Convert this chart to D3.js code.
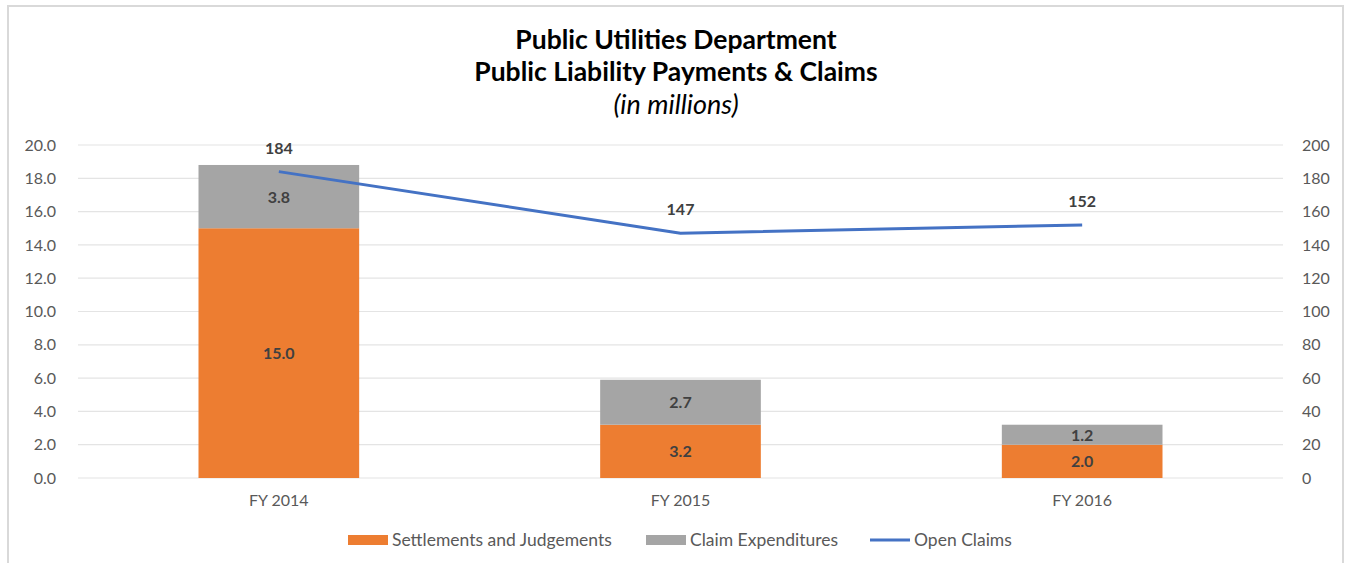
<!DOCTYPE html>
<html>
<head>
<meta charset="utf-8">
<script src="https://cdn.jsdelivr.net/npm/d3@7"></script>
<style>
  html, body { margin: 0; padding: 0; background: #fff; }
  svg { display: block; }
  text { font-family: Lato, "Open Sans", sans-serif; }
</style>
</head>
<body>
<svg id="chart" width="1345" height="563"></svg>
<script>
// Fiscal years and their payments (millions) and open claim counts
const years = ["FY 2014", "FY 2015", "FY 2016"];
const settlements = [15.0, 3.2, 2.0];
const claimExpenditures = [3.8, 2.7, 1.2];
const openClaims = [184, 147, 152];
const leftTicks = [0, 2, 4, 6, 8, 10, 12, 14, 16, 18, 20];
const rightTicks = [0, 20, 40, 60, 80, 100, 120, 140, 160, 180, 200];
const seriesNames = ["Settlements and Judgements", "Claim Expenditures", "Open Claims"];

const colors = { settle: "#ED7D31", claim: "#A5A5A5", line: "#4472C4" };
const FONT = "Lato, 'Open Sans', sans-serif";

const svg = d3.select("#chart");
const W = 1345, H = 563;
const plot = { left: 78, right: 1283, top: 145, bottom: 478 };

// Chart frame
svg.append("rect")
  .attr("x", 8).attr("y", 6).attr("width", W - 10).attr("height", H + 10)
  .attr("fill", "#fff").attr("stroke", "#d9d9d9").attr("stroke-width", 2);

// Title
const title = svg.append("g").attr("text-anchor", "middle");
title.append("text").attr("x", 676).attr("y", 49)
  .attr("font-size", 26.5).attr("font-weight", 700).attr("fill", "#000")
  .text("Public Utilities Department");
title.append("text").attr("x", 676).attr("y", 81)
  .attr("font-size", 26.5).attr("font-weight", 700).attr("fill", "#000")
  .text("Public Liability Payments & Claims");
title.append("text").attr("x", 676).attr("y", 114)
  .attr("font-size", 27).attr("font-style", "italic").attr("fill", "#000")
  .text("(in millions)");

const x = d3.scaleBand().domain(years)
  .range([plot.left, plot.right]).paddingInner(0.6).paddingOuter(0.3);
const yL = d3.scaleLinear().domain([0, 20]).range([plot.bottom, plot.top]);
const yR = d3.scaleLinear().domain([0, 200]).range([plot.bottom, plot.top]);

// Gridlines
svg.append("g").selectAll("line").data(leftTicks).join("line")
  .attr("x1", plot.left).attr("x2", plot.right)
  .attr("y1", d => yL(d)).attr("y2", d => yL(d))
  .attr("stroke", "#e4e4e4").attr("stroke-width", 1.2);

// Left axis
const leftAxis = svg.append("g").attr("transform", `translate(${plot.left - 22},0)`)
  .call(d3.axisLeft(yL).tickValues(leftTicks).tickFormat(d3.format(".1f")).tickSize(0).tickPadding(0));
leftAxis.select(".domain").remove();
leftAxis.selectAll("text").attr("font-size", 16).attr("fill", "#595959").attr("font-family", FONT);

// Right axis
const rightAxis = svg.append("g").attr("transform", `translate(${plot.right + 19},0)`)
  .call(d3.axisRight(yR).tickValues(rightTicks).tickSize(0).tickPadding(0));
rightAxis.select(".domain").remove();
rightAxis.selectAll("text").attr("font-size", 16).attr("fill", "#595959").attr("font-family", FONT);

// Category axis labels
const bottomAxis = svg.append("g").attr("transform", `translate(0,${plot.bottom + 13})`)
  .call(d3.axisBottom(x).tickSize(0).tickPadding(4));
bottomAxis.select(".domain").remove();
bottomAxis.selectAll("text").attr("font-size", 16).attr("fill", "#595959").attr("font-family", FONT);

// Stacked bars
const rows = years.map((y, i) => ({ year: y, settle: settlements[i], claim: claimExpenditures[i] }));
const stack = d3.stack().keys(["settle", "claim"])(rows);
const bars = svg.append("g");
stack.forEach(layer => {
  bars.append("g").selectAll("rect").data(layer).join("rect")
    .attr("x", d => x(d.data.year))
    .attr("width", x.bandwidth())
    .attr("y", d => yL(d[1]))
    .attr("height", d => yL(d[0]) - yL(d[1]))
    .attr("fill", colors[layer.key]);
  bars.append("g").selectAll("text").data(layer).join("text")
    .attr("x", d => x(d.data.year) + x.bandwidth() / 2)
    .attr("y", d => (yL(d[0]) + yL(d[1])) / 2 + 6)
    .attr("text-anchor", "middle")
    .attr("font-size", 16).attr("font-weight", 700).attr("fill", "#404040")
    .text(d => d3.format(".1f")(d.data[layer.key]));
});

// Open claims line
const cx = d => x(d) + x.bandwidth() / 2;
const line = d3.line().x((d, i) => cx(years[i])).y(d => yR(d));
svg.append("path").datum(openClaims)
  .attr("d", line).attr("fill", "none")
  .attr("stroke", colors.line).attr("stroke-width", 3).attr("stroke-linejoin", "round");
svg.append("g").selectAll("text").data(openClaims).join("text")
  .attr("x", (d, i) => cx(years[i]))
  .attr("y", d => yR(d) - 18)
  .attr("text-anchor", "middle")
  .attr("font-size", 16).attr("font-weight", 700).attr("fill", "#404040")
  .text(d => d);

// Legend
const legend = svg.append("g").attr("transform", "translate(0,540)");
const legendItems = [
  { name: seriesNames[0], x: 348, kind: "rect", color: colors.settle },
  { name: seriesNames[1], x: 646, kind: "rect", color: colors.claim },
  { name: seriesNames[2], x: 870, kind: "line", color: colors.line }
];
legendItems.forEach(it => {
  if (it.kind === "rect") {
    legend.append("rect").attr("x", it.x).attr("y", -5).attr("width", 40).attr("height", 10)
      .attr("fill", it.color);
  } else {
    legend.append("line").attr("x1", it.x).attr("x2", it.x + 40).attr("y1", 0).attr("y2", 0)
      .attr("stroke", it.color).attr("stroke-width", 3);
  }
  legend.append("text").attr("x", it.x + 44).attr("y", 6)
    .attr("font-size", 17.5).attr("fill", "#595959").text(it.name);
});
</script>
</body>
</html>
